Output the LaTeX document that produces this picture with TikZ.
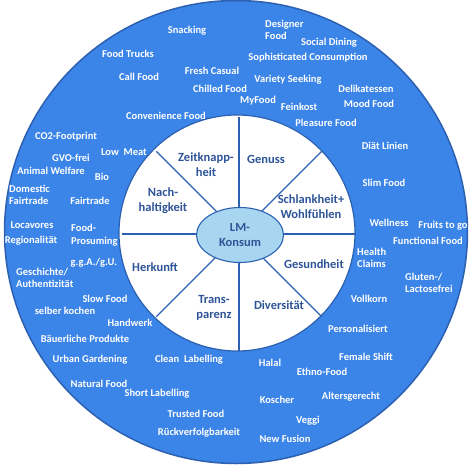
\documentclass[tikz,border=0pt]{standalone}
\usepackage{fontspec}
\setmainfont{Carlito}
\usepackage{tikz}
\usetikzlibrary{shapes.geometric, calc}
\definecolor{RingBlue}{RGB}{59, 132, 232}
\definecolor{LineBlue}{RGB}{44, 96, 176}
\definecolor{TxtBlue}{RGB}{46, 84, 152}
\definecolor{CoreBlue}{RGB}{168, 214, 240}

\begin{document}
\begin{tikzpicture}[x=1pt, y=-1pt,
    trend/.style={text=white, font=\fontsize{10.5}{12.5}\selectfont\bfseries, inner sep=0pt, align=center},
    trendl/.style={trend, align=left, anchor=west},
    motiv/.style={text=TxtBlue, font=\fontsize{12.5}{15}\selectfont\bfseries, inner sep=0pt, align=center}]
    \useasboundingbox (0,0) rectangle (472,466);

    % Ringe
    \draw[LineBlue, fill=RingBlue, line width=1.5pt] (236,232) circle (231.5);
    \draw[LineBlue, fill=white, line width=1.2pt] (237,233) circle (118);

    % Speichen
    \coordinate (m) at (239,234);
    \foreach \a in {0,45,...,315}
        \draw[LineBlue, line width=1.1pt] (m) -- +(\a:117);

    % Kern
    \node[ellipse, draw=LineBlue, fill=CoreBlue, line width=1.1pt, minimum width=87, minimum height=55, inner sep=0pt,
          text=TxtBlue, font=\fontsize{12.5}{15}\selectfont\bfseries, align=center] (kern) at (240,235) {LM-\\Konsum};

    % Motive (innerer Kreis)
    \node[motiv] (zeit) at (206,165) {Zeitknapp-\\heit};
    \node[motiv] (genuss) at (266,159) {Genuss};
    \node[motiv] (nach) at (163,201) {Nach-\\haltigkeit};
    \node[motiv] (schlank) at (311,207) {Schlankheit+\\Wohlfühlen};
    \node[motiv] (herkunft) at (155,267) {Herkunft};
    \node[motiv] (gesund) at (314,264) {Gesundheit};
    \node[motiv] (transp) at (214,308) {Trans-\\parenz};
    \node[motiv] (divers) at (279,305) {Diversität};

    % Trends oben links
    \node[trend] (snack) at (187,31) {Snacking};
    \node[trend] (trucks) at (128,54) {Food Trucks};
    \node[trend] (call) at (139,77) {Call Food};
    \node[trend] (fresh) at (212,71) {Fresh Casual};
    \node[trend] (chilled) at (220,89) {Chilled Food};
    \node[trend] (conv) at (166,116) {Convenience Food};
    \node[trend] (co2) at (66,137) {CO2-Footprint};
    \node[trend] (lowmeat) at (124,152) {Low\ \ Meat};

    % Trends oben rechts
    \node[trendl] (designer) at (265,30) {Designer\\Food};
    \node[trend] (social) at (329,43) {Social Dining};
    \node[trend] (sophist) at (308,58) {Sophisticated Consumption};
    \node[trend] (variety) at (288,80) {Variety Seeking};
    \node[trend] (delik) at (366,89) {Delikatessen};
    \node[trend] (myfood) at (258,101) {MyFood};
    \node[trend] (feinkost) at (299,107) {Feinkost};
    \node[trend] (mood) at (369,104) {Mood Food};
    \node[trend] (pleasure) at (326,123) {Pleasure Food};
    \node[trend] (diaet) at (385,146) {Diät Linien};

    % Trends links
    \node[trend] (gvo) at (71,158) {GVO-frei};
    \node[trend] (animal) at (51,171) {Animal Welfare};
    \node[trend] (bio) at (102,177) {Bio};
    \node[trendl] (domestic) at (9,195) {Domestic\\Fairtrade};
    \node[trend] (fair) at (90,201) {Fairtrade};
    \node[trend] (locav) at (32,225) {Locavores};
    \node[trend] (region) at (31,241) {Regionalität};
    \node[trendl] (prosum) at (71,235) {Food-\\Prosuming};
    \node[trend] (gga) at (94,263) {g.g.A./g.U.};
    \node[trendl] (gesch) at (16,278) {Geschichte/\\Authentizität};
    \node[trend] (slow) at (105,299) {Slow Food};

    % Trends rechts
    \node[trend] (slim) at (384,183) {Slim Food};
    \node[trend] (well) at (389,223) {Wellness};
    \node[trend] (fruits) at (443,226) {Fruits to go};
    \node[trend] (funct) at (428,241) {Functional Food};
    \node[trendl] (health) at (357,258) {Health\\Claims};
    \node[trendl] (gluten) at (405,283) {Gluten-/\\Lactosefrei};
    \node[trend] (vollkorn) at (369,299) {Vollkorn};

    % Trends unten links
    \node[trend] (selber) at (65,311) {selber kochen};
    \node[trend] (handw) at (130,323) {Handwerk};
    \node[trend] (baeuer) at (85,339) {Bäuerliche Produkte};
    \node[trend] (urban) at (90,360) {Urban Gardening};
    \node[trend] (clean) at (189,360) {Clean\ \ Labelling};
    \node[trend] (natural) at (99,384) {Natural Food};
    \node[trend] (short) at (157,394) {Short Labelling};
    \node[trend] (trusted) at (196,414) {Trusted Food};
    \node[trend] (rueck) at (199,433) {Rückverfolgbarkeit};

    % Trends unten rechts
    \node[trend] (person) at (358,329) {Personalisiert};
    \node[trend] (female) at (366,357) {Female Shift};
    \node[trend] (halal) at (270,363) {Halal};
    \node[trend] (ethno) at (322,372) {Ethno-Food};
    \node[trend] (koscher) at (277,400) {Koscher};
    \node[trend] (alters) at (351,397) {Altersgerecht};
    \node[trend] (veggi) at (308,421) {Veggi};
    \node[trend] (fusion) at (285,439) {New Fusion};
\end{tikzpicture}
\end{document}
